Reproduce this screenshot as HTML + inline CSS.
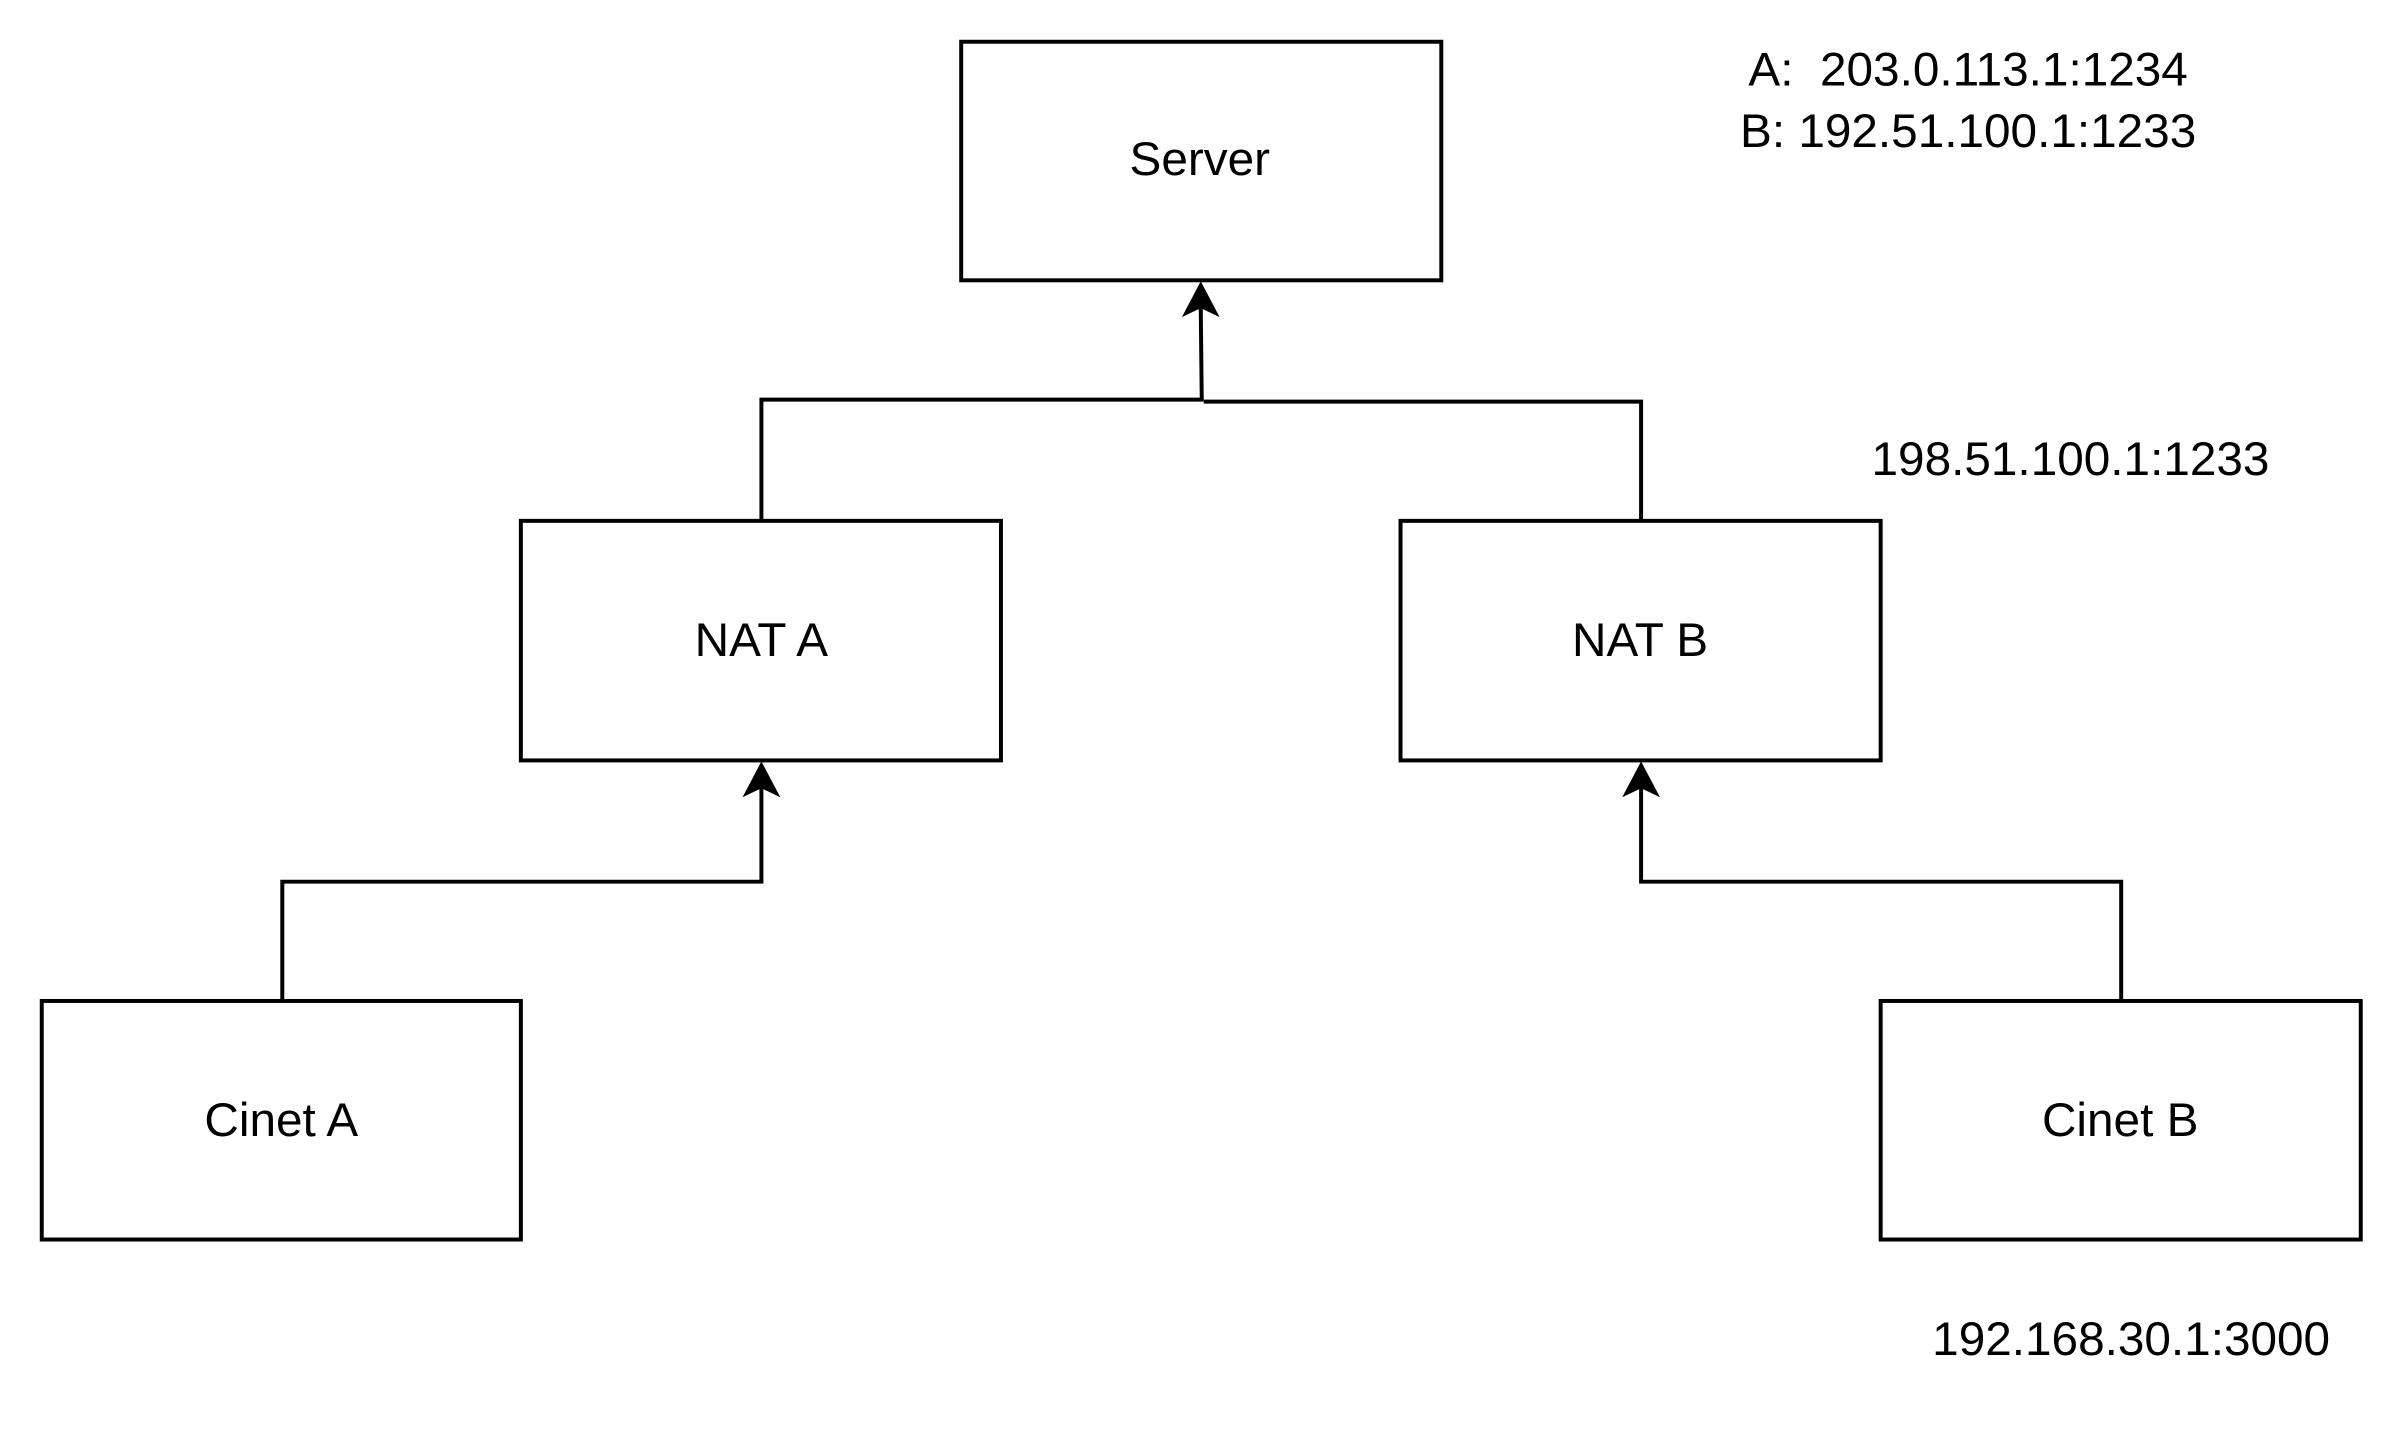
<!DOCTYPE html>
<html><head><style>
html,body{margin:0;padding:0;background:#fff;}
svg{display:block;}
text{font-family:"Liberation Sans",sans-serif;font-size:48px;fill:#000;}
</style></head><body>
<svg width="2404" height="1444" viewBox="0 0 2404 1444" xmlns="http://www.w3.org/2000/svg">
<g transform="scale(0.994)">
<g fill="none" stroke="#000" stroke-width="4">
<rect x="967" y="42" width="483" height="240"/>
<rect x="524" y="524" width="483" height="241"/>
<rect x="1409" y="524" width="483" height="241"/>
<rect x="42" y="1007" width="482" height="240"/>
<rect x="1892" y="1007" width="483" height="240"/>
<polyline points="766,524 766,402 1209,402 1208,310"/>
<polyline points="1651,524 1651,404 1211,404"/>
<polyline points="284,1007 284,887 766,887 766,792"/>
<polyline points="2134,1007 2134,887 1651,887 1651,792"/>
</g>
<g fill="#000">
<path d="M1208,283 L1227,319 L1208,310 L1189,319 Z"/>
<path d="M766,766 L785,802 L766,793 L747,802 Z"/>
<path d="M1651,766 L1670,802 L1651,793 L1632,802 Z"/>
</g>
<g text-anchor="middle">
<text x="1207" y="176">Server</text>
<text x="766" y="660">NAT A</text>
<text x="1650" y="660">NAT B</text>
<text x="283" y="1143">Cinet A</text>
<text x="2133" y="1143">Cinet B</text>
<text x="1980" y="86" xml:space="preserve">A:  203.0.113.1:1234</text>
<text x="1980" y="148">B: 192.51.100.1:1233</text>
<text x="2083" y="478">198.51.100.1:1233</text>
<text x="2144" y="1363">192.168.30.1:3000</text>
</g>
</g>
</svg>
</body></html>
